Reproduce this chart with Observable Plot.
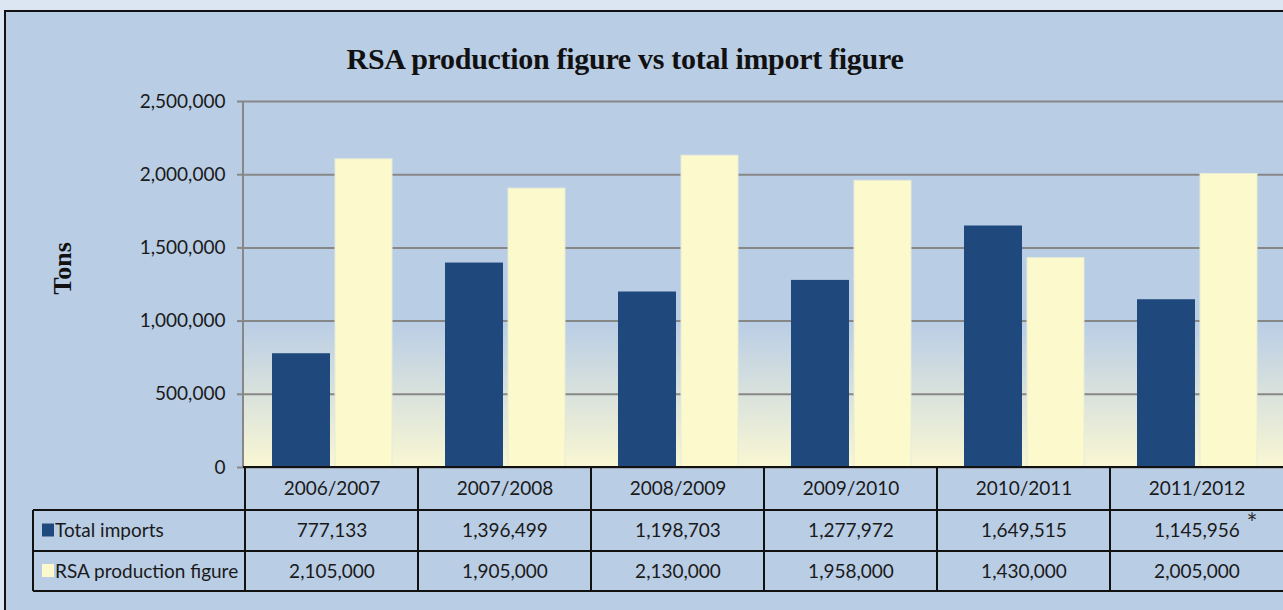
<!DOCTYPE html>
<html><head><meta charset="utf-8">
<script src="https://cdn.jsdelivr.net/npm/d3@7"></script>
<script src="https://cdn.jsdelivr.net/npm/@observablehq/plot@0.6"></script>
<style>
html,body{margin:0;padding:0;width:1283px;height:610px;overflow:hidden;background:#dce6f2;}
#box{position:absolute;left:4px;top:10px;width:1330px;height:660px;border:2px solid #111;background:#b9cde5;box-sizing:border-box;}
#title{position:absolute;left:0;width:1250px;top:42px;line-height:30px;text-align:center;font:bold 30px "Liberation Serif",serif;color:#111;letter-spacing:-0.3px;}
#chart{position:absolute;left:0;top:0;width:1290px;}
</style></head><body>
<div id="box"></div>
<svg width="0" height="0" style="position:absolute"><defs>
<linearGradient id="plotbg" x1="0" y1="0" x2="0" y2="1">
<stop offset="0" stop-color="#b9cde5"/><stop offset="0.6" stop-color="#b9cde5"/><stop offset="1" stop-color="#f9f7d3"/>
</linearGradient></defs></svg>
<div id="title">RSA production figure vs total import figure</div>
<div id="chart"></div>
<script>
const categories = ["2006/2007", "2007/2008", "2008/2009", "2009/2010", "2010/2011", "2011/2012"];
const totalImports = [777133, 1396499, 1198703, 1277972, 1649515, 1145956];
const rsaProduction = [2105000, 1905000, 2130000, 1958000, 1430000, 2005000];
const importNotes = ["", "", "", "", "", "*"];
const seriesNames = ["Total imports", "RSA production figure"];
const seriesColors = ["#1f497d", "#fcf9cc"];
const yTicks = [0, 500000, 1000000, 1500000, 2000000, 2500000];
const yLabel = "Tons";

const fmt = d3.format(",");
const rows = categories.map((c, i) => ({category: c, imports: totalImports[i], production: rsaProduction[i], note: importNotes[i]}));
const FONT = "Lato, 'Open Sans', sans-serif";
const ROW = [21.5, 63.5, 104];      // row centres below the baseline
const LINES = [0, 43, 84, 124];     // table rule offsets below the baseline

function tableGrid(index, scales, values, dims) {
  const x = scales.x, y = scales.y;
  const x0 = dims.marginLeft, x1 = dims.width - dims.marginRight;
  const y0 = y(0);
  const left = 33;
  const g = d3.create("svg:g");
  g.append("line").attr("x1", x0).attr("x2", x0).attr("y1", y(yTicks[yTicks.length - 1])).attr("y2", y0)
    .attr("stroke", "#878787").attr("stroke-width", 2);
  const t = g.append("g").attr("stroke", "#111").attr("stroke-width", 2);
  LINES.forEach((o, i) => {
    t.append("line").attr("x1", i === 0 ? x0 : left).attr("x2", x1).attr("y1", y0 + o).attr("y2", y0 + o);
  });
  t.append("line").attr("x1", left).attr("x2", left).attr("y1", y0 + LINES[1]).attr("y2", y0 + LINES[3]);
  categories.forEach(c => {
    t.append("line").attr("x1", x(c)).attr("x2", x(c)).attr("y1", y0).attr("y2", y0 + LINES[3]);
  });
  t.append("line").attr("x1", x1).attr("x2", x1).attr("y1", y0).attr("y2", y0 + LINES[3]);
  seriesNames.forEach((name, i) => {
    const cy = y0 + ROW[i + 1];
    g.append("rect").attr("x", 42).attr("y", cy - 7).attr("width", 12).attr("height", 13).attr("fill", seriesColors[i]);
    g.append("text").attr("x", 55).attr("y", cy).attr("dy", "0.35em").attr("fill", "#1a1a1a")
      .attr("text-anchor", "start")
      .attr("font-family", FONT).attr("font-size", 19).text(name);
  });
  return g.node();
}

const chart = Plot.plot({
  width: 1290, height: 610,
  marginLeft: 243, marginRight: 5, marginTop: 101, marginBottom: 143,
  style: {background: "transparent", overflow: "visible", fontFamily: FONT, maxWidth: "none"},
  x: {type: "band", domain: categories, padding: 0, axis: null},
  y: {domain: [0, 2500000]},
  marks: [
    Plot.frame({fill: "url(#plotbg)", stroke: "none"}),
    Plot.gridY(yTicks, {stroke: "#878787", strokeOpacity: 1, strokeWidth: 2}),
    Plot.axisY(yTicks, {tickFormat: fmt, tickSize: 6, tickPadding: 12, stroke: "#878787", strokeWidth: 2,
      fill: "#1a1a1a", fontSize: 19, fontFamily: FONT, label: null}),
    Plot.barY(rows, {x: "category", y: "imports", fill: seriesColors[0], insetLeft: 27, insetRight: 88}),
    Plot.barY(rows, {x: "category", y: "production", fill: seriesColors[1], stroke: "#e6ecd8", strokeWidth: 1, insetLeft: 90, insetRight: 26}),
    tableGrid,
    Plot.text(categories, {x: d => d, frameAnchor: "bottom", lineAnchor: "middle", dy: ROW[0], text: d => d, fontSize: 19, fill: "#1a1a1a"}),
    Plot.text(rows, {x: "category", frameAnchor: "bottom", lineAnchor: "middle", dy: ROW[1], text: d => fmt(d.imports), fontSize: 19, fill: "#1a1a1a"}),
    Plot.text(rows, {x: "category", frameAnchor: "bottom", lineAnchor: "middle", dy: ROW[1] - 6, dx: 55, text: "note", fontSize: 26, fill: "#333"}),
    Plot.text(rows, {x: "category", frameAnchor: "bottom", lineAnchor: "middle", dy: ROW[2], text: d => fmt(d.production), fontSize: 19, fill: "#1a1a1a"}),
    Plot.text([yLabel], {frameAnchor: "left", textAnchor: "middle", lineAnchor: "middle", dx: -181, dy: -16, rotate: -90, text: d => d, fontSize: 26, fontWeight: "bold", fontFamily: "'Liberation Serif', serif", fill: "#111"})
  ]
});
document.getElementById("chart").appendChild(chart);
</script>
</body></html>
